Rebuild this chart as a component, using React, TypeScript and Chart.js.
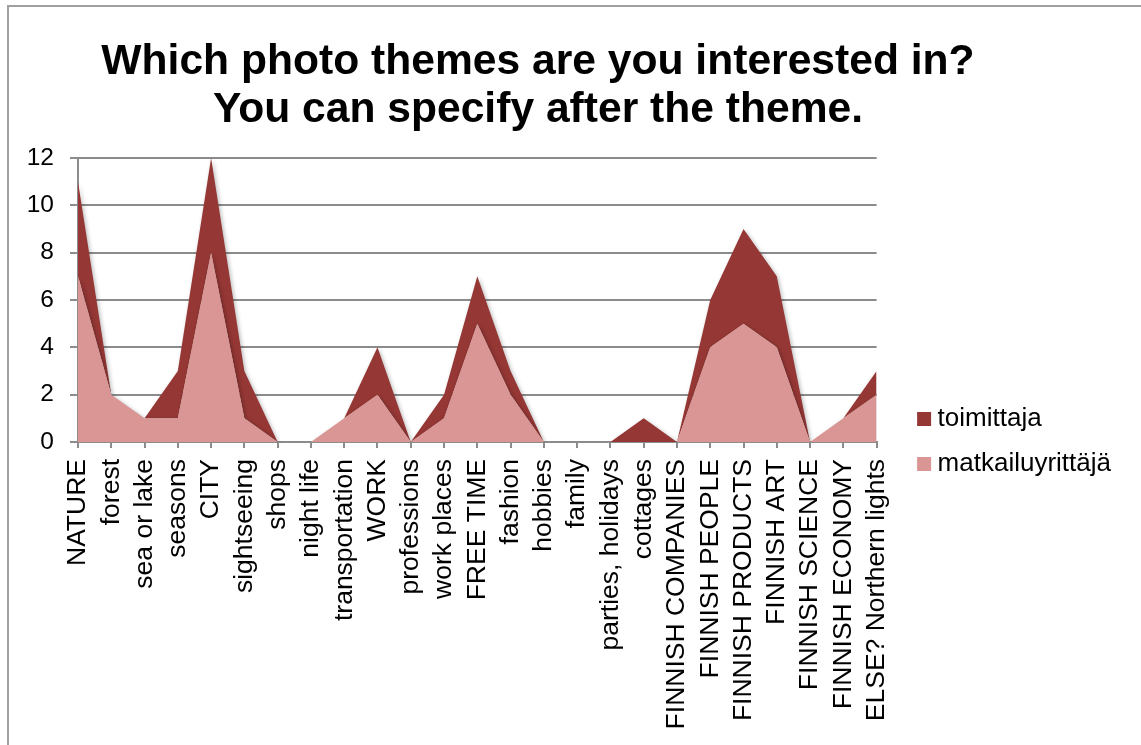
import React, { useEffect, useRef } from 'react';
import { Chart, registerables } from 'chart.js';

Chart.register(...registerables);

// Survey themes along the horizontal axis
const categories = [
  'NATURE',
  'forest',
  'sea or lake',
  'seasons',
  'CITY',
  'sightseeing',
  'shops',
  'night life',
  'transportation',
  'WORK',
  'professions',
  'work places',
  'FREE TIME',
  'fashion',
  'hobbies',
  'family',
  'parties, holidays',
  'cottages',
  'FINNISH COMPANIES',
  'FINNISH PEOPLE',
  'FINNISH PRODUCTS',
  'FINNISH ART',
  'FINNISH SCIENCE',
  'FINNISH ECONOMY',
  'ELSE? Northern lights',
];

// Answers per respondent group (stacked)
const matkailuyrittajaValues = [7, 2, 1, 1, 8, 1, 0, 0, 1, 2, 0, 1, 5, 2, 0, 0, 0, 0, 0, 4, 5, 4, 0, 1, 2];
const toimittajaValues = [4, 0, 0, 2, 4, 2, 0, 0, 0, 2, 0, 1, 2, 1, 0, 0, 0, 1, 0, 2, 4, 3, 0, 0, 1];

const seriesNames = ['matkailuyrittäjä', 'toimittaja'];
const yAxisMin = 0;
const yAxisMax = 12;
const yAxisStep = 2;

const titleLines = ['Which photo themes are you interested in?', 'You can specify after the theme.'];

const DARK_RED = '#953735';
const LIGHT_RED = '#D99694';
const GRID_GRAY = '#8c8c8c';
const FONT = "'Liberation Sans', Arial, Helvetica, sans-serif";

// Canvas geometry (canvas is shifted left so the title centres over the plot block)
const CANVAS_LEFT = -45;
const CANVAS_W = 1186;
const CANVAS_H = 745;
const Y_AXIS_W = 123;
const X_AXIS_H = 303;
const LEGEND_GAP_W = 28;

// Soft drop shadow under the filled areas
const areaShadow = {
  id: 'areaShadow',
  beforeDatasetsDraw(chart: any) {
    const ctx = chart.ctx;
    ctx.save();
    ctx.shadowColor = 'rgba(0, 0, 0, 0.28)';
    ctx.shadowBlur = 4;
    ctx.shadowOffsetX = 1.5;
    ctx.shadowOffsetY = 1.5;
  },
  afterDatasetsDraw(chart: any) {
    chart.ctx.restore();
  },
};

export default function App() {
  const canvasRef = useRef<HTMLCanvasElement>(null);

  useEffect(() => {
    const canvas = canvasRef.current;
    if (!canvas) return;
    Chart.defaults.font.family = FONT;
    Chart.defaults.color = '#000';

    const chart = new Chart(canvas, {
      type: 'line',
      data: {
        labels: categories,
        datasets: [
          {
            label: seriesNames[0],
            data: matkailuyrittajaValues,
            backgroundColor: LIGHT_RED,
            borderColor: 'transparent',
            borderWidth: 0,
            fill: 'origin',
            pointRadius: 0,
            pointHoverRadius: 0,
            tension: 0,
          },
          {
            label: seriesNames[1],
            data: toimittajaValues,
            backgroundColor: DARK_RED,
            borderColor: 'transparent',
            borderWidth: 0,
            fill: '-1',
            pointRadius: 0,
            pointHoverRadius: 0,
            tension: 0,
          },
        ],
      },
      plugins: [areaShadow],
      options: {
        animation: false,
        responsive: false,
        events: [],
        layout: { padding: { left: 0, right: 20, top: 0, bottom: 0 } },
        plugins: {
          tooltip: { enabled: false },
          title: {
            display: true,
            text: titleLines,
            color: '#000',
            font: { family: FONT, size: 42.6, weight: 'bold', lineHeight: 48 / 42.6 },
            padding: { top: 38, bottom: 24 },
          },
          legend: {
            display: true,
            position: 'right',
            align: 'start',
            reverse: true,
            maxWidth: 400,
            title: {
              display: true,
              text: '',
              font: { size: 10, lineHeight: 1 },
              padding: { top: 377, bottom: 0 },
            },
            labels: {
              usePointStyle: true,
              pointStyle: 'rect',
              boxWidth: 1,
              boxHeight: 14,
              padding: 19,
              color: '#000',
              font: { family: FONT, size: 26 },
            },
          },
        },
        scales: {
          x: {
            type: 'category',
            offset: false,
            grid: {
              display: true,
              drawOnChartArea: false,
              drawTicks: true,
              tickLength: 6,
              color: GRID_GRAY,
              lineWidth: 2,
            },
            border: { display: true, color: GRID_GRAY, width: 2 },
            ticks: {
              autoSkip: false,
              minRotation: 90,
              maxRotation: 90,
              padding: 11,
              color: '#000',
              font: { family: FONT, size: 26.5 },
            },
            afterFit: (scale: any) => {
              scale.height = X_AXIS_H;
            },
          },
          y: {
            type: 'linear',
            stacked: true,
            min: yAxisMin,
            max: yAxisMax,
            grid: {
              color: GRID_GRAY,
              lineWidth: 2,
              drawTicks: true,
              tickLength: 8,
            },
            border: { display: true, color: GRID_GRAY, width: 2 },
            ticks: {
              stepSize: yAxisStep,
              padding: 16,
              color: '#000',
              font: { family: FONT, size: 24.5 },
            },
            afterFit: (scale: any) => {
              scale.width = Y_AXIS_W;
            },
          },
          legendGap: {
            type: 'linear',
            position: 'right',
            display: true,
            grid: { display: false },
            border: { display: false },
            ticks: { display: false },
            afterFit: (scale: any) => {
              scale.width = LEGEND_GAP_W;
            },
          },
        },
      },
    });

    return () => {
      chart.destroy();
    };
  }, []);

  return (
    <div
      style={{
        position: 'fixed',
        left: 0,
        top: 0,
        width: 1141,
        height: 745,
        overflow: 'hidden',
        background: '#fff',
      }}
    >
      <div
        style={{
          position: 'absolute',
          left: 7,
          top: 5,
          width: 2000,
          height: 2000,
          borderLeft: '2px solid #a0a0a0',
          borderTop: '2px solid #a0a0a0',
        }}
      />
      <canvas
        ref={canvasRef}
        width={CANVAS_W}
        height={CANVAS_H}
        style={{ position: 'absolute', left: CANVAS_LEFT, top: 0, width: CANVAS_W, height: CANVAS_H }}
      />
    </div>
  );
}
